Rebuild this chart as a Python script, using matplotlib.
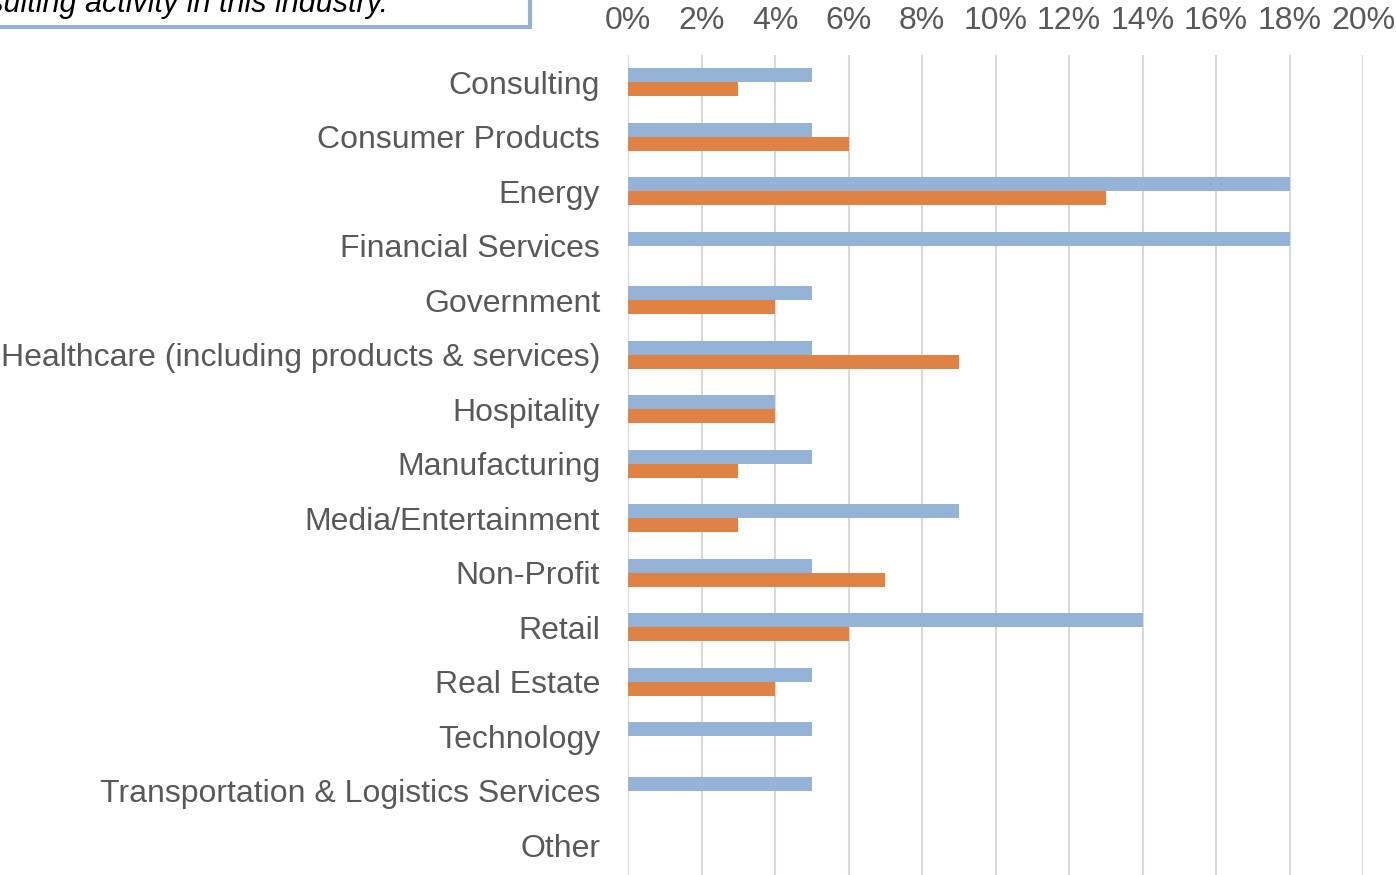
import matplotlib.pyplot as plt
from matplotlib.patches import Rectangle
import numpy as np

plt.rcParams['font.family'] = ['Liberation Sans', 'DejaVu Sans']

industries = ["Consulting", "Consumer Products", "Energy", "Financial Services",
              "Government", "Healthcare (including products & services)", "Hospitality",
              "Manufacturing", "Media/Entertainment", "Non-Profit", "Retail",
              "Real Estate", "Technology", "Transportation & Logistics Services", "Other"]
series_a = [5, 5, 18, 18, 5, 5, 4, 5, 9, 5, 14, 5, 5, 5, 0]
series_b = [3, 6, 13, 0, 4, 9, 4, 3, 3, 7, 6, 4, 0, 0, 0]
xticks = list(range(0, 21, 2))

W, H = 1396, 875
fig = plt.figure(figsize=(W / 100, H / 100), dpi=100)
ax = fig.add_axes([628 / W, 0, (1363 - 628) / W, (875 - 55) / H])

y = np.arange(len(industries))
h = 0.257
ax.barh(y - h / 2, series_a, height=h, color='#95B3D7', zorder=3)
ax.barh(y + h / 2, series_b, height=h, color='#E08244', zorder=3)

ax.set_xlim(0, 20)
ax.set_ylim(len(industries) - 0.5 + 0.05, -0.5)
ax.set_xticks(xticks)
ax.set_xticklabels([f"{t}%" for t in xticks])
ax.xaxis.tick_top()
ax.set_yticks(y)
ax.set_yticklabels(industries)
ax.tick_params(axis='x', length=0, pad=14, labelsize=23, labelcolor='#595959')
ax.tick_params(axis='y', length=0, pad=20, labelsize=23, labelcolor='#595959')
ax.grid(axis='x', color='#D9D9D9', linewidth=1.5, zorder=0)
for s in ax.spines.values():
    s.set_visible(False)

# note box in the top-left corner
fig.patches.append(Rectangle((-10 / W, (H - 27) / H), 540 / W, 60 / H,
                             transform=fig.transFigure, facecolor='white',
                             edgecolor='#95B3D7', linewidth=3, clip_on=False))
fig.text(388 / W, (H - 12) / H, "consulting activity in this industry.",
         ha='right', va='baseline', fontsize=22, style='italic', color='black')

fig.savefig('out.png', dpi=100)
